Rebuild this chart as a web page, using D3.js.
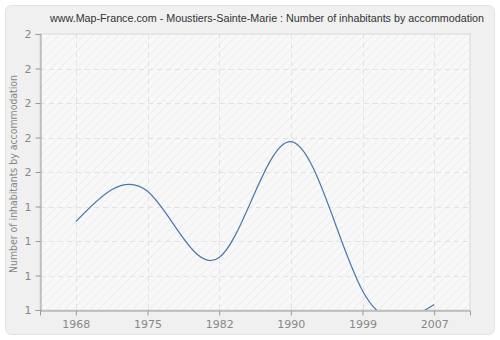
<!DOCTYPE html>
<html>
<head>
<meta charset="utf-8">
<script src="https://cdn.jsdelivr.net/npm/d3@7"></script>
<style>
  body { margin: 0; background: #fff; }
  text { font-family: "DejaVu Sans", sans-serif; }
</style>
</head>
<body>
<div id="chart"></div>
<script>
// data
const years = ["1968", "1975", "1982", "1990", "1999", "2007"];
const values = [1.32, 1.43, 1.19, 1.61, 1.07, 1.02];
const yTicks = [1, 1.125, 1.25, 1.375, 1.5, 1.625, 1.75, 1.875, 2];

const width = 500, height = 340;
const margin = { left: 40, right: 30, top: 34, bottom: 30 };

const svg = d3.select("#chart").append("svg")
  .attr("width", width)
  .attr("height", height);

// outer panel
svg.append("rect")
  .attr("x", 5.5).attr("y", 5.5)
  .attr("width", 489).attr("height", 329)
  .attr("rx", 6)
  .attr("fill", "#f0f0f0")
  .attr("stroke", "#e2e2e2");

const defs = svg.append("defs");
const pat = defs.append("pattern")
  .attr("id", "hatch")
  .attr("width", 6).attr("height", 6)
  .attr("patternUnits", "userSpaceOnUse")
  .attr("patternTransform", "rotate(45)");
pat.append("rect").attr("width", 6).attr("height", 6).attr("fill", "#f8f8f8");
pat.append("line")
  .attr("x1", 0).attr("y1", 0).attr("x2", 0).attr("y2", 6)
  .attr("stroke", "#ebebeb").attr("stroke-width", 1.5);

defs.append("clipPath").attr("id", "clip")
  .append("rect")
  .attr("x", margin.left).attr("y", margin.top)
  .attr("width", width - margin.left - margin.right)
  .attr("height", height - margin.top - margin.bottom);

const x = d3.scalePoint()
  .domain(years)
  .range([margin.left, width - margin.right])
  .padding(0.5);

const y = d3.scaleLinear()
  .domain([1, 2])
  .range([height - margin.bottom, margin.top]);

// plot background
svg.append("rect")
  .attr("x", margin.left).attr("y", margin.top)
  .attr("width", width - margin.left - margin.right)
  .attr("height", height - margin.top - margin.bottom)
  .attr("fill", "url(#hatch)")
  .attr("stroke", "#d8d8d8");

// grid
svg.append("g").selectAll("line")
  .data(yTicks.slice(1, -1))
  .join("line")
  .attr("x1", margin.left).attr("x2", width - margin.right)
  .attr("y1", d => Math.round(y(d)) + 0.5).attr("y2", d => Math.round(y(d)) + 0.5)
  .attr("stroke", "#e2e2e2")
  .attr("stroke-dasharray", "5,4");

svg.append("g").selectAll("line")
  .data(years)
  .join("line")
  .attr("x1", d => Math.round(x(d)) + 0.5).attr("x2", d => Math.round(x(d)) + 0.5)
  .attr("y1", margin.top).attr("y2", height - margin.bottom)
  .attr("stroke", "#e2e2e2")
  .attr("stroke-dasharray", "5,4");

// axes
const yAxis = svg.append("g")
  .attr("transform", `translate(${margin.left + 0.5},0)`)
  .call(d3.axisLeft(y).tickValues(yTicks).tickSize(5).tickPadding(4)
    .tickFormat(d => d3.format(".0f")(d)));
const xAxis = svg.append("g")
  .attr("transform", `translate(0,${height - margin.bottom + 0.5})`)
  .call(d3.axisBottom(x).tickSize(5).tickPadding(5));

[yAxis, xAxis].forEach(a => {
  a.select(".domain").attr("stroke", "#999");
  a.selectAll(".tick line").attr("stroke", "#999");
  a.selectAll(".tick text")
    .attr("fill", "#888")
    .style("font-size", "11px")
    .style("font-family", "DejaVu Sans, sans-serif");
});

// line
const line = d3.line()
  .x((d, i) => x(years[i]))
  .y(d => y(d))
  .curve(d3.curveNatural);

svg.append("path")
  .datum(values)
  .attr("clip-path", "url(#clip)")
  .attr("d", line)
  .attr("fill", "none")
  .attr("stroke", "#4a78ad")
  .attr("stroke-width", 1.2);

// title
svg.append("text")
  .attr("x", 267).attr("y", 22)
  .attr("text-anchor", "middle")
  .attr("fill", "#333")
  .attr("textLength", 434)
  .attr("lengthAdjust", "spacingAndGlyphs")
  .style("font-size", "11px")
  .style("font-family", "Liberation Sans, sans-serif")
  .text("www.Map-France.com - Moustiers-Sainte-Marie : Number of inhabitants by accommodation");

// y label
svg.append("text")
  .attr("transform", "translate(17,174) rotate(-90)")
  .attr("text-anchor", "middle")
  .attr("fill", "#888")
  .attr("textLength", 198)
  .attr("lengthAdjust", "spacingAndGlyphs")
  .style("font-size", "11px")
  .text("Number of inhabitants by accommodation");
</script>
</body>
</html>
